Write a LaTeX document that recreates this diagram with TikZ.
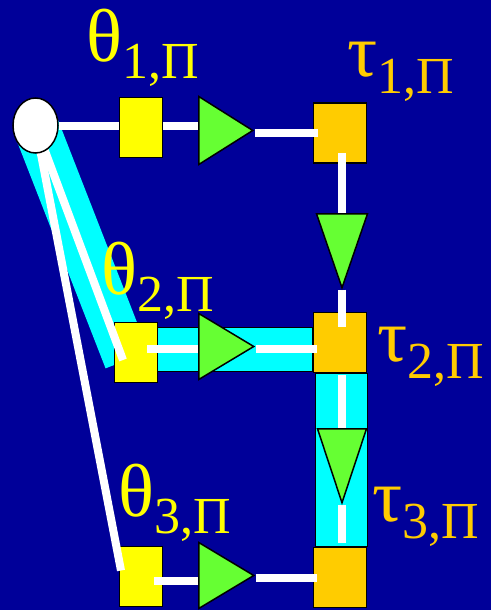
\documentclass[tikz,border=0pt]{standalone}
\usepackage{fontspec}
\setmainfont{Liberation Serif}
\usetikzlibrary{shapes.geometric, calc}
\definecolor{bgBlue}{RGB}{0,0,153}
\definecolor{bandCyan}{RGB}{0,255,255}
\definecolor{thYellow}{RGB}{255,255,0}
\definecolor{taOrange}{RGB}{255,204,0}
\definecolor{triGreen}{RGB}{102,255,51}
\pgfdeclarelayer{bands}
\pgfdeclarelayer{wires}
\pgfdeclarelayer{front}
\pgfsetlayers{bands,main,wires,front}
\newcommand{\lblsub}[1]{\raisebox{-17pt}{\fontsize{52}{52}\selectfont #1,Π}}

\begin{document}
\begin{tikzpicture}[x=1pt, y=-1pt,
        thbox/.style = {draw, line width=1.5pt, fill=thYellow, minimum width=43pt, minimum height=60pt, inner sep=0},
        tabox/.style = {thbox, fill=taOrange, minimum width=53pt},
        gtri/.style  = {isosceles triangle, isosceles triangle stretches, draw, line width=1.5pt, fill=triGreen, inner sep=0, anchor=lower side},
        gdown/.style = {gtri, shape border rotate=270},
        wire/.style  = {white, line width=8pt},
        band/.style  = {draw=black, line width=1pt, fill=bandCyan},
        thlbl/.style = {text=thYellow, font=\fontsize{75}{75}\selectfont, inner sep=0, anchor=base west},
        talbl/.style = {thlbl, text=taOrange},
    ]
    % boxes
    \node[thbox] (th1) at (141,127.5) {};
    \node[thbox] (th2) at (136,352.5) {};
    \node[thbox] (th3) at (141,576.5) {};
    \node[tabox] (ta1) at (340,133) {};
    \node[tabox] (ta2) at (340,342.5) {};
    \node[tabox] (ta3) at (340,577.5) {};
    % source and triangles
    \begin{pgfonlayer}{front}
        \node[draw, ellipse, line width=1.5pt, fill=white, minimum width=45pt, minimum height=55pt, inner sep=0] (src) at (35.5,125.5) {};
        \node[gtri, minimum width=68pt, minimum height=54pt] (g1) at (198,130.5) {};
        \node[gtri, minimum width=66pt, minimum height=55pt] (g2) at (198,346.5) {};
        \node[gtri, minimum width=66pt, minimum height=55pt] (g3) at (198,575.5) {};
        \node[gdown, minimum width=51pt, minimum height=74pt] (gv1) at (342,213) {};
        \node[gdown, minimum width=49pt, minimum height=74pt] (gv2) at (342,428) {};
        % labels
        \node[thlbl] (lth1) at (86,62) {θ\lblsub{1}};
        \node[talbl] (lta1) at (347,77) {τ\lblsub{1}};
        \node[thlbl] (lth2) at (101,294) {θ\lblsub{2}};
        \node[talbl] (lta2) at (377,361) {τ\lblsub{2}};
        \node[thlbl] (lth3) at (118,516) {θ\lblsub{3}};
        \node[talbl] (lta3) at (372,521) {τ\lblsub{3}};
    \end{pgfonlayer}
    % background and highlighted path
    \begin{pgfonlayer}{bands}
        \fill[bgBlue] (0,0) rectangle (491,610);
        \coordinate (bandend) at ($(th2.center)+(-9,7.5)$);
        \draw[bandCyan, line width=46pt] (src.center) -- (bandend);
        \draw[band] ($(th2.center)+(0,-25.5)$) rectangle ($(ta2.west)+(0,28.5)$);
        \draw[band] ($(ta2.south west)+(3,0)$) rectangle (ta3.north east);
    \end{pgfonlayer}
    % connectors
    \begin{pgfonlayer}{wires}
        \draw[wire] (src.east) -- (src.east -| th1.west);
        \draw[wire] ($(th1.east)+(0,-1.5)$) -- ($(g1.lower side)+(0,-4.5)$);
        \draw[wire] (g1.apex |- ta1.west) -- ($(ta1.west)+(5,0)$);
        \draw[wire] ($(ta1.south)+(2,-11)$) -- ($(gv1.lower side)$);
        \draw[wire] (gv1.apex) -- ($(ta2.north)+(2,15)$);
        \draw[wire] (src.center) -- ($(th2.center)+(-13,7.5)$);
        \draw[wire] ($(th2.east)+(-11,-3.5)$) -- ($(g2.lower side)+(0,2.5)$);
        \draw[wire] ($(g2.apex)+(0,2.5)$) -- ($(ta2.west)+(4,6.5)$);
        \draw[wire] ($(ta2.south)+(2,2)$) -- (gv2.lower side);
        \draw[wire] (gv2.apex) -- ($(ta3.north)+(2,-4)$);
        \draw[wire] (src.center) -- ($(th3.center)+(-20,-6)$);
        \draw[wire] ($(th3.east)+(-9,4.5)$) -- ($(g3.lower side)+(0,5.5)$);
        \draw[wire] (g3.apex |- ta3.west) -- ($(ta3.west)+(4,0)$);
    \end{pgfonlayer}
\end{tikzpicture}
\end{document}
